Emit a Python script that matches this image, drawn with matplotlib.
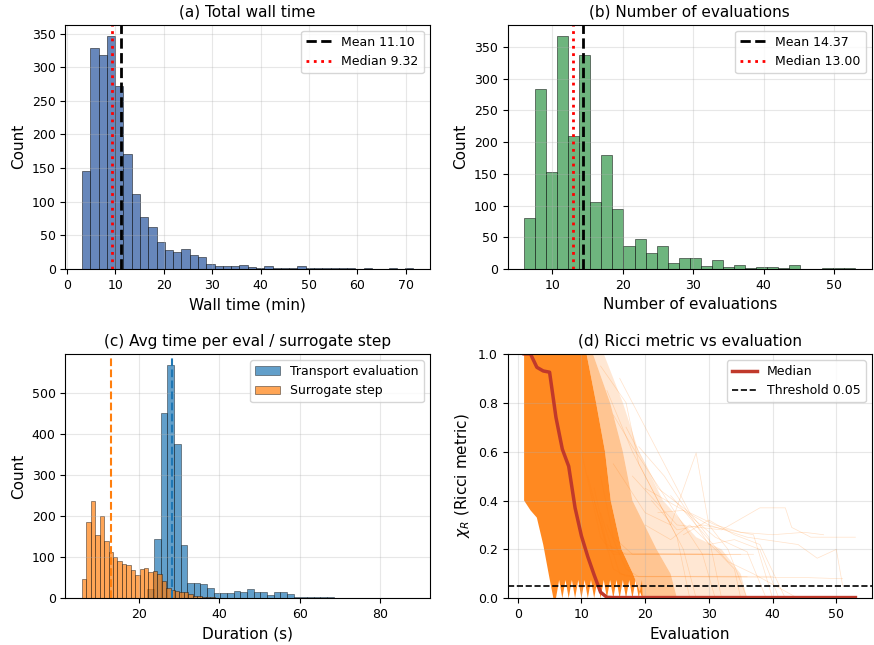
import numpy as np
import matplotlib.pyplot as plt

# ---------------- datos ----------------

# (a) tiempo total de pared (min), 40 bins
wall_min, wall_max = 3.1, 71.6
wall_counts = [146, 328, 318, 346, 272, 171, 111, 77, 62, 40,
               28, 25, 30, 21, 18, 8, 5, 5, 5, 6,
               3, 2, 5, 1, 1, 1, 4, 2, 1, 1,
               2, 1, 1, 0, 1, 0, 0, 2, 0, 1]
wall_mean, wall_median = 11.10, 9.32

# (b) numero de evaluaciones, 30 bins
neval_min, neval_max = 6, 53
neval_counts = [80, 284, 153, 367, 209, 337, 105, 180, 94, 36,
                48, 26, 37, 9, 17, 18, 4, 14, 3, 6,
                2, 3, 3, 1, 7, 0, 0, 1, 1, 2]
neval_mean, neval_median = 14.37, 13.00

# (c) duracion media por evaluacion / paso surrogate (s), 40 bins cada uno
transport_min, transport_max = 22.1, 88.2
transport_counts = [22, 145, 453, 568, 376, 131, 37, 37, 35, 25,
                    12, 14, 12, 18, 15, 23, 16, 16, 7, 16,
                    16, 10, 4, 2, 2, 2, 2, 2, 0, 1,
                    1, 0, 1, 0, 1, 0, 0, 1, 0, 1]
surrogate_min, surrogate_max = 5.9, 49.9
surrogate_counts = [48, 186, 238, 155, 201, 140, 113, 100, 90, 84,
                    82, 69, 57, 71, 73, 64, 67, 59, 41, 24,
                    20, 19, 15, 15, 11, 6, 6, 3, 2, 2,
                    1, 1, 1, 1, 0, 1, 0, 1, 0, 1]
transport_ref = 28.3
surrogate_ref = 13.0

# (d) metrica de Ricci vs evaluacion
median_eval = list(range(1, 54))
median_chi = [1.0, 1.0, 0.945, 0.93, 0.925, 0.74, 0.61, 0.54, 0.37, 0.255,
              0.17, 0.095, 0.025, 0.004] + [0.003] * 39
threshold = 0.05

# zona densa de trayectorias (borde derecho, dientes inferiores, borde izquierdo)
core_top_x = [1, 10.8, 12.3, 13.7, 14.6, 16.3, 18.1, 19.6]
core_top_y = [1.0, 1.0, 0.8, 0.6, 0.4, 0.2, 0.1, 0.0]
core_left_x = [5.6, 5.0, 4.0, 3.0, 2.0, 1.0]
core_left_y = [0.0, 0.08, 0.22, 0.33, 0.36, 0.40]
teeth_k = [19, 18, 17, 16, 15, 14, 13, 12, 11, 10, 9, 8, 7, 6]
teeth_gap = 0.075

# bordes de densidad media y baja a la derecha
mid_x = [11.8, 14.5, 16.5, 18.0, 21.8, 24.0, 25.0]
mid_y = [1.0, 0.8, 0.6, 0.4, 0.2, 0.1, 0.0]
light_x = [13.5, 16.5, 19.0, 22.8, 28.0, 32.0, 35.0, 36.0]
light_y = [1.0, 0.8, 0.6, 0.4, 0.25, 0.2, 0.1, 0.0]

# trayectorias sueltas visibles (evaluacion, chi)
traces = [
    [(10, 0.6), (13, 0.25), (15, 0.18), (37, 0.18)],
    [(11, 0.5), (14, 0.2), (16, 0.185), (33, 0.178)],
    [(12, 0.45), (14, 0.22), (17, 0.18), (30, 0.182)],
    [(13, 0.5), (15, 0.25), (18, 0.18), (35, 0.18)],
    [(12, 0.4), (15, 0.12), (17, 0.09), (45, 0.085), (51, 0.08)],
    [(13, 0.35), (16, 0.1), (18, 0.09), (40, 0.09)],
    [(14, 0.3), (17, 0.12), (19, 0.088), (36, 0.088)],
    [(15, 0.55), (20, 0.35), (24, 0.3), (28, 0.595), (30, 0.3), (33, 0.2), (36, 0.0)],
    [(18, 0.5), (25, 0.3), (32, 0.28), (38, 0.37), (42, 0.37), (43, 0.29), (46, 0.25), (53, 0.25)],
    [(20, 0.45), (30, 0.3), (36, 0.25), (44, 0.22), (47, 0.164), (50, 0.2), (51, 0.05)],
    [(17, 0.7), (22, 0.45), (27, 0.35), (31, 0.3), (35, 0.27), (40, 0.26), (45, 0.27), (48, 0.26)],
    [(19, 0.62), (23, 0.5), (26, 0.38), (30, 0.22), (34, 0.24), (38, 0.2), (41, 0.0)],
    [(16, 0.9), (20, 0.7), (24, 0.5), (27, 0.35), (30, 0.25), (32, 0.0)],
    [(21, 0.4), (25, 0.28), (29, 0.3), (33, 0.28), (37, 0.26), (40, 0.0)],
    [(14, 0.85), (18, 0.6), (21, 0.45), (24, 0.3), (26, 0.2), (28, 0.0)],
    [(22, 0.35), (26, 0.36), (31, 0.25), (36, 0.19), (39, 0.0)],
    [(24, 0.42), (28, 0.3), (33, 0.15), (37, 0.1), (44, 0.0)],
    [(13, 0.95), (17, 0.8), (19, 0.55), (22, 0.4), (25, 0.25), (27, 0.0)],
    [(15, 0.75), (18, 0.62), (21, 0.5), (23, 0.42), (26, 0.3), (29, 0.18), (31, 0.0)],
    [(20, 0.3), (24, 0.24), (27, 0.3), (31, 0.2), (34, 0.12), (35, 0.0)],
    [(26, 0.26), (30, 0.32), (34, 0.26), (38, 0.22), (42, 0.0)],
]

# ---------------- figura ----------------

plt.rcParams['font.size'] = 9
plt.rcParams['axes.titlesize'] = 11
plt.rcParams['axes.labelsize'] = 11

fig = plt.figure(figsize=(8.74, 6.45), dpi=100)
w, h = 0.417, 0.379
ax_a = fig.add_axes([0.0749, 0.5829, w, h])
ax_b = fig.add_axes([0.5807, 0.5829, w, h])
ax_c = fig.add_axes([0.0749, 0.0724, w, h])
ax_d = fig.add_axes([0.5807, 0.0724, w, h])

# (a)
edges = np.linspace(wall_min, wall_max, len(wall_counts) + 1)
ax_a.hist(edges[:-1], bins=edges, weights=wall_counts, color='#4C72B0',
          alpha=0.85, edgecolor='black', linewidth=0.4)
ax_a.axvline(wall_mean, color='black', ls='--', lw=2, label='Mean %.2f' % wall_mean)
ax_a.axvline(wall_median, color='red', ls=':', lw=2, label='Median %.2f' % wall_median)
ax_a.set_title('(a) Total wall time')
ax_a.set_xlabel('Wall time (min)')
ax_a.set_ylabel('Count')
ax_a.legend(loc='upper right')
ax_a.grid(True, alpha=0.3)

# (b)
edges = np.linspace(neval_min, neval_max, len(neval_counts) + 1)
ax_b.hist(edges[:-1], bins=edges, weights=neval_counts, color='#55A868',
          alpha=0.85, edgecolor='black', linewidth=0.4)
ax_b.axvline(neval_mean, color='black', ls='--', lw=2, label='Mean %.2f' % neval_mean)
ax_b.axvline(neval_median, color='red', ls=':', lw=2, label='Median %.2f' % neval_median)
ax_b.set_title('(b) Number of evaluations')
ax_b.set_xlabel('Number of evaluations')
ax_b.set_ylabel('Count')
ax_b.legend(loc='upper right')
ax_b.grid(True, alpha=0.3)

# (c)
edges_t = np.linspace(transport_min, transport_max, len(transport_counts) + 1)
edges_s = np.linspace(surrogate_min, surrogate_max, len(surrogate_counts) + 1)
ax_c.hist(edges_t[:-1], bins=edges_t, weights=transport_counts, color='C0',
          alpha=0.7, edgecolor='black', linewidth=0.4, label='Transport evaluation')
ax_c.hist(edges_s[:-1], bins=edges_s, weights=surrogate_counts, color='C1',
          alpha=0.7, edgecolor='black', linewidth=0.4, label='Surrogate step')
ax_c.axvline(transport_ref, color='C0', ls='--', lw=1.5)
ax_c.axvline(surrogate_ref, color='C1', ls='--', lw=1.5)
ax_c.set_title('(c) Avg time per eval / surrogate step')
ax_c.set_xlabel('Duration (s)')
ax_c.set_ylabel('Count')
ax_c.legend(loc='upper right')
ax_c.grid(True, alpha=0.3)

# (d)
orange = '#ff7f0e'
# capa clara: entre el borde medio y el borde claro
ax_d.fill(light_x + mid_x[::-1], light_y + mid_y[::-1], color=orange, alpha=0.18, lw=0)
# capa media: entre el borde denso y el borde medio
ax_d.fill(mid_x + core_top_x[::-1], mid_y + core_top_y[::-1], color=orange, alpha=0.45, lw=0)
for tr in traces:
    ax_d.plot([p[0] for p in tr], [p[1] for p in tr], color=orange, lw=0.5, alpha=0.22)
bottom_x, bottom_y = [], []
for k in teeth_k:
    bottom_x += [k + 0.5, k]
    bottom_y += [teeth_gap, 0.0]
poly_x = core_top_x + bottom_x + core_left_x
poly_y = core_top_y + bottom_y + core_left_y
ax_d.fill(poly_x, poly_y, color=orange, alpha=0.92, lw=0)
ax_d.plot(median_eval, median_chi, color='#c0392b', lw=2.5, label='Median')
ax_d.axhline(threshold, color='black', ls='--', lw=1.2, label='Threshold %.2f' % threshold)
ax_d.set_xlim(-1.6, 55.6)
ax_d.set_ylim(0, 1.0)
ax_d.set_title('(d) Ricci metric vs evaluation')
ax_d.set_xlabel('Evaluation')
ax_d.set_ylabel(r'$\chi_R$ (Ricci metric)')
ax_d.legend(loc='upper right')
ax_d.grid(True, alpha=0.3)

fig.savefig('out.png', dpi=100)
